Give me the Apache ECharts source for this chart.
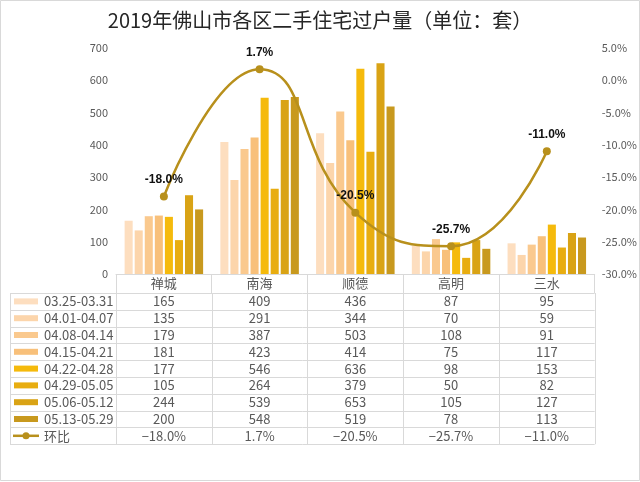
<!DOCTYPE html>
<html>
<head>
<meta charset="utf-8">
<script src="https://cdn.jsdelivr.net/npm/echarts@6/dist/echarts.min.js"></script>
<style>
html,body{margin:0;padding:0;background:#fff;}
#main{width:640px;height:482px;}
</style>
</head>
<body>
<div id="main"></div>
<script>
const categories = ['禅城', '南海', '顺德', '高明', '三水'];
const periods = ['03.25-03.31', '04.01-04.07', '04.08-04.14', '04.15-04.21', '04.22-04.28', '04.29-05.05', '05.06-05.12', '05.13-05.29'];
const w0325 = [165, 409, 436, 87, 95];
const w0401 = [135, 291, 344, 70, 59];
const w0408 = [179, 387, 503, 108, 91];
const w0415 = [181, 423, 414, 75, 117];
const w0422 = [177, 546, 636, 98, 153];
const w0429 = [105, 264, 379, 50, 82];
const w0506 = [244, 539, 653, 105, 127];
const w0513 = [200, 548, 519, 78, 113];
const ratioName = '环比';
const ratio = [-18.0, 1.7, -20.5, -25.7, -11.0];
const barColors = ['#FDDEBF', '#FCD5AB', '#FAC98E', '#F8C07A', '#F5BA0C', '#E8AD10', '#D9A315', '#C8991E'];
const lineColor = '#B8901C';

const weekly = [w0325, w0401, w0408, w0415, w0422, w0429, w0506, w0513];

const chart = echarts.init(document.getElementById('main'));

const gridTop = 48, gridBottomY = 274;
const option = {
  animation: false,
  backgroundColor: '#fff',
  title: {
    text: '2019年佛山市各区二手住宅过户量（单位：套）',
    left: 'center',
    top: 5,
    textStyle: { fontSize: 20, fontWeight: 'normal', color: '#262626', fontFamily: 'Noto Sans CJK SC' }
  },
  grid: { left: 116, right: 45, top: gridTop, bottom: 482 - gridBottomY },
  xAxis: {
    type: 'category',
    data: categories,
    axisLine: { lineStyle: { color: '#d9d9d9' } },
    axisTick: { show: true, length: 19, lineStyle: { color: '#d9d9d9' } },
    axisLabel: { margin: 3, fontSize: 13, color: '#595959', fontFamily: 'Noto Sans CJK SC' }
  },
  yAxis: [
    {
      type: 'value', min: 0, max: 700, interval: 100,
      splitLine: { show: false }, axisLine: { show: false }, axisTick: { show: false },
      axisLabel: { color: '#595959', fontSize: 11, margin: 8, fontFamily: 'Noto Sans CJK SC' }
    },
    {
      type: 'value', min: -30, max: 5, interval: 5, position: 'right',
      splitLine: { show: false }, axisLine: { show: false }, axisTick: { show: false },
      axisLabel: { color: '#595959', fontSize: 11, margin: 7, fontFamily: 'Noto Sans CJK SC',
        formatter: v => v.toFixed(1) + '%' }
    }
  ],
  series: weekly.map((d, i) => ({
    name: periods[i],
    type: 'bar',
    data: d,
    barGap: '25%',
    barCategoryGap: '18%',
    itemStyle: { color: barColors[i] }
  })).concat([{
    name: ratioName,
    type: 'line',
    yAxisIndex: 1,
    data: ratio,
    smooth: 0.5,
    symbol: 'circle',
    symbolSize: 8,
    lineStyle: { color: lineColor, width: 2.5 },
    itemStyle: { color: lineColor },
    label: {
      show: true, position: 'top', distance: 7,
      fontWeight: 'bold', fontSize: 12, color: '#111', fontFamily: 'Liberation Sans',
      formatter: p => p.value.toFixed(1) + '%'
    },
    z: 5
  }])
};
chart.setOption(option);

// Build the data table under the chart using the axis positions
const xs = categories.map((c, i) => chart.convertToPixel({ xAxisIndex: 0 }, i));
const colW = xs[1] - xs[0];
const tableLeft = 10;
const tableTop = 293;
const rowH = 16.8;
const nRows = periods.length + 1;
const tableBottom = tableTop + rowH * nRows;
const plotLeft = xs[0] - colW / 2;
const plotRight = xs[xs.length - 1] + colW / 2;
const gridColor = '#d9d9d9';
const txtColor = '#595959';
const els = [];
// outer border
els.push({ type: 'rect', shape: { x: 0.5, y: 0.5, width: 639, height: 480 }, style: { fill: null, stroke: '#d9d9d9', lineWidth: 1 }, silent: true });
// horizontal lines
for (let r = 0; r <= nRows; r++) {
  const y = Math.round(tableTop + r * rowH) + 0.5;
  els.push({ type: 'line', shape: { x1: tableLeft, y1: y, x2: plotRight, y2: y }, style: { stroke: gridColor, lineWidth: 1 }, silent: true });
}
// vertical lines
const vxs = [tableLeft, plotLeft].concat(xs.map(x => x + colW / 2));
vxs.forEach(x => {
  const xx = Math.round(x) + 0.5;
  els.push({ type: 'line', shape: { x1: xx, y1: tableTop, x2: xx, y2: tableBottom }, style: { stroke: gridColor, lineWidth: 1 }, silent: true });
});
// rows
const rows = weekly.map((d, i) => ({ name: periods[i], vals: d.map(v => String(v)), color: barColors[i], kind: 'bar' }));
rows.push({ name: ratioName, vals: ratio.map(v => (v < 0 ? '\u2212' + Math.abs(v).toFixed(1) : v.toFixed(1)) + '%'), color: lineColor, kind: 'line' });
rows.forEach((row, r) => {
  const cy = tableTop + rowH * (r + 0.5);
  if (row.kind === 'bar') {
    els.push({ type: 'rect', shape: { x: 14, y: cy - 3, width: 24, height: 6 }, style: { fill: row.color }, silent: true });
  } else {
    els.push({ type: 'line', shape: { x1: 13, y1: cy, x2: 39, y2: cy }, style: { stroke: row.color, lineWidth: 2.5 }, silent: true });
    els.push({ type: 'circle', shape: { cx: 26, cy: cy, r: 3.5 }, style: { fill: row.color }, silent: true });
  }
  els.push({ type: 'text', x: 44, y: cy, style: { text: row.name, fill: txtColor, fontSize: 13, fontFamily: 'Noto Sans CJK SC', verticalAlign: 'middle', align: 'left' }, silent: true });
  row.vals.forEach((v, c) => {
    els.push({ type: 'text', x: xs[c], y: cy, style: { text: v, fill: txtColor, fontSize: 13, fontFamily: 'Noto Sans CJK SC', verticalAlign: 'middle', align: 'center' }, silent: true });
  });
});
chart.setOption({ graphic: { elements: els } });
</script>
</body>
</html>
